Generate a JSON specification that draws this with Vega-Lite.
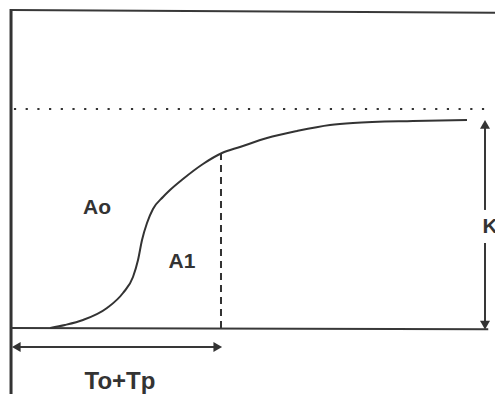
{
  "$schema": "https://vega.github.io/schema/vega-lite/v6.json",
  "width": 495,
  "height": 394,
  "padding": 0,
  "autosize": {"type": "none"},
  "background": "#ffffff",
  "config": {"view": {"stroke": null}},
  "datasets": {
    "curve": [
      {"x": 7.9, "y": 0},
      {"x": 10.97, "y": 1.37},
      {"x": 14.7, "y": 3.65},
      {"x": 19.67, "y": 9.13},
      {"x": 22.98, "y": 15.98},
      {"x": 25.05, "y": 23.29},
      {"x": 26.09, "y": 31.05},
      {"x": 26.92, "y": 40.18},
      {"x": 27.95, "y": 47.95},
      {"x": 29.19, "y": 54.34},
      {"x": 31.26, "y": 59.82},
      {"x": 32.71, "y": 63.01},
      {"x": 35.4, "y": 68.04},
      {"x": 39.54, "y": 74.89},
      {"x": 43.48, "y": 79.91},
      {"x": 47.2, "y": 82.65},
      {"x": 52.8, "y": 86.76},
      {"x": 59.01, "y": 89.95},
      {"x": 65.84, "y": 92.69},
      {"x": 70.6, "y": 93.61},
      {"x": 83.02, "y": 94.52},
      {"x": 94.2, "y": 94.98}
    ],
    "frameLeft": [
      {"x": -0.2, "y": -30.14, "x2": -0.2, "y2": 145.7}
    ],
    "frameThin": [
      {"x": -0.2, "y": 145.2, "x2": 100, "y2": 144.0},
      {"x": -0.2, "y": 0, "x2": 98.6, "y2": -0.6}
    ],
    "shafts": [
      {"x": 97.93, "y": 0.5, "x2": 97.93, "y2": 38.8},
      {"x": 97.93, "y": 53.9, "x2": 97.93, "y2": 93.5},
      {"x": 0.5, "y": -8.68, "x2": 42.5, "y2": -8.68}
    ],
    "dotted": [
      {"x": 0.4, "y": 100, "x2": 98.3, "y2": 100}
    ],
    "dashed": [
      {"x": 43.27, "y": 0, "x2": 43.27, "y2": 79.9}
    ],
    "headUp": [{"x": 97.93, "y": 93.0}],
    "headDown": [{"x": 97.93, "y": 1.3}],
    "headLeft": [{"x": 0.89, "y": -8.68}],
    "headRight": [{"x": 42.6, "y": -8.68}],
    "labels": [
      {"x": 17.6, "y": 54.8, "label": "Ao"},
      {"x": 35.2, "y": 30.1, "label": "A1"},
      {"x": 98.96, "y": 46.1, "label": "K"}
    ],
    "bottomLabel": [
      {"x": 22.36, "y": -24.66, "label": "To+Tp"}
    ]
  },
  "encoding": {
    "x": {"field": "x", "type": "quantitative", "scale": {"domain": [-2.4845, 100], "nice": false, "zero": false}, "axis": null},
    "y": {"field": "y", "type": "quantitative", "scale": {"domain": [-30.14, 149.77], "nice": false, "zero": false}, "axis": null}
  },
  "layer": [
    {
      "data": {"name": "dotted"},
      "mark": {"type": "rule", "color": "#333333", "strokeWidth": 2.2, "strokeDash": [2.2, 9.5]},
      "encoding": {"x2": {"field": "x2"}, "y2": {"field": "y2"}}
    },
    {
      "data": {"name": "dashed"},
      "mark": {"type": "rule", "color": "#333333", "strokeWidth": 2, "strokeDash": [7, 5]},
      "encoding": {"x2": {"field": "x2"}, "y2": {"field": "y2"}}
    },
    {
      "data": {"name": "frameLeft"},
      "mark": {"type": "rule", "color": "#333333", "strokeWidth": 3},
      "encoding": {"x2": {"field": "x2"}, "y2": {"field": "y2"}}
    },
    {
      "data": {"name": "frameThin"},
      "mark": {"type": "rule", "color": "#383838", "strokeWidth": 2},
      "encoding": {"x2": {"field": "x2"}, "y2": {"field": "y2"}}
    },
    {
      "data": {"name": "shafts"},
      "mark": {"type": "rule", "color": "#383838", "strokeWidth": 2},
      "encoding": {"x2": {"field": "x2"}, "y2": {"field": "y2"}}
    },
    {
      "data": {"name": "curve"},
      "mark": {"type": "line", "color": "#333333", "strokeWidth": 2, "interpolate": "monotone"},
      "encoding": {}
    },
    {
      "data": {"name": "headUp"},
      "mark": {"type": "point", "shape": "triangle-up", "size": 100, "filled": true, "color": "#333333", "opacity": 1},
      "encoding": {}
    },
    {
      "data": {"name": "headDown"},
      "mark": {"type": "point", "shape": "triangle-down", "size": 100, "filled": true, "color": "#333333", "opacity": 1},
      "encoding": {}
    },
    {
      "data": {"name": "headLeft"},
      "mark": {"type": "point", "shape": "triangle-left", "size": 100, "filled": true, "color": "#333333", "opacity": 1},
      "encoding": {}
    },
    {
      "data": {"name": "headRight"},
      "mark": {"type": "point", "shape": "triangle-right", "size": 100, "filled": true, "color": "#333333", "opacity": 1},
      "encoding": {}
    },
    {
      "data": {"name": "labels"},
      "mark": {"type": "text", "font": "Liberation Sans", "fontWeight": "bold", "fontSize": 21, "color": "#333333", "align": "center", "baseline": "middle"},
      "encoding": {"text": {"field": "label"}}
    },
    {
      "data": {"name": "bottomLabel"},
      "mark": {"type": "text", "font": "Liberation Sans", "fontWeight": "bold", "fontSize": 24, "color": "#333333", "align": "center", "baseline": "middle"},
      "encoding": {"text": {"field": "label"}}
    }
  ]
}
